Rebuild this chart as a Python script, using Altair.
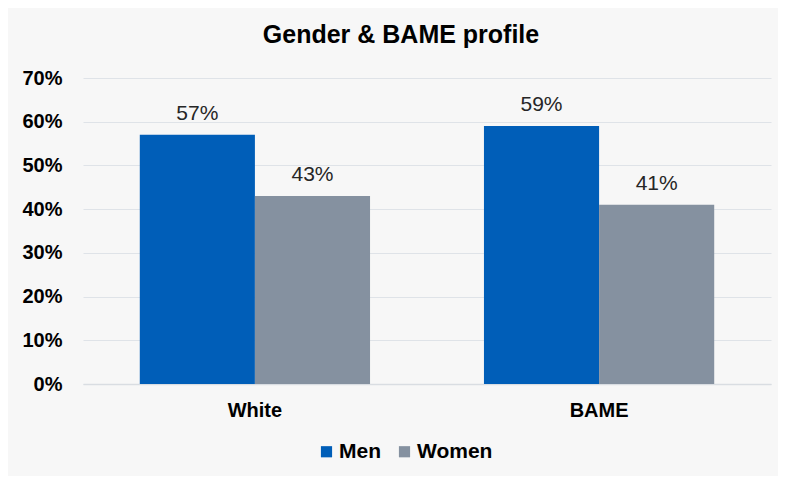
import altair as alt
import pandas as pd

categories = ["White", "White", "BAME", "BAME"]
genders = ["Men", "Women", "Men", "Women"]
values = [0.57, 0.43, 0.59, 0.41]
labels = ["57%", "43%", "59%", "41%"]

df = pd.DataFrame({"group": categories, "gender": genders, "value": values, "label": labels})

FONT = "Liberation Sans"

x = alt.X("group:N", sort=["White", "BAME"], title=None,
          scale=alt.Scale(paddingInner=0.331, paddingOuter=0.165),
          axis=alt.Axis(labelAngle=0, labelFont=FONT, labelFontSize=20, labelFontWeight="bold",
                        labelColor="#000000", labelPadding=16, ticks=False, domain=True,
                        domainColor="#d9dde2", domainWidth=1.5))
y = alt.Y("value:Q", title=None,
          scale=alt.Scale(domain=[0, 0.7]),
          axis=alt.Axis(format=".0%", values=[0, 0.1, 0.2, 0.3, 0.4, 0.5, 0.6, 0.7],
                        labelFont=FONT, labelFontSize=20, labelFontWeight="bold",
                        labelColor="#000000", labelPadding=21, ticks=False, domain=False,
                        grid=True, gridColor="#dfe3e8", gridWidth=1.2))
color = alt.Color("gender:N", sort=["Men", "Women"],
                  scale=alt.Scale(domain=["Men", "Women"], range=["#005EB8", "#8591A0"]),
                  legend=alt.Legend(title=None, orient="none", direction="horizontal",
                                    legendX=233, legendY=363, symbolType="square", symbolSize=125,
                                    symbolStrokeWidth=0, labelFont=FONT, labelFontSize=21,
                                    labelFontWeight="bold", labelColor="#000000",
                                    columnPadding=13, labelOffset=2))

base = alt.Chart(df).encode(x=x, xOffset=alt.XOffset("gender:N", sort=["Men", "Women"]))

bars = base.mark_bar().encode(y=y, color=color)
text = base.mark_text(dy=-21, font=FONT, fontSize=21, color="#262626").encode(
    y=alt.Y("value:Q"), text="label:N")

chart = alt.layer(bars, text).properties(
    width=688, height=306,
    title=alt.TitleParams("Gender & BAME profile", font=FONT, fontSize=25, fontWeight="bold",
                          color="#000000", anchor="middle", offset=20, dx=-26),
    background="#f7f7f7",
    autosize=alt.AutoSizeParams(type="none"),
    padding={"left": 75, "top": 70, "right": 7, "bottom": 92},
).configure_view(stroke=None)

chart.save("out.html", embed_options={"renderer": "svg", "actions": False})
